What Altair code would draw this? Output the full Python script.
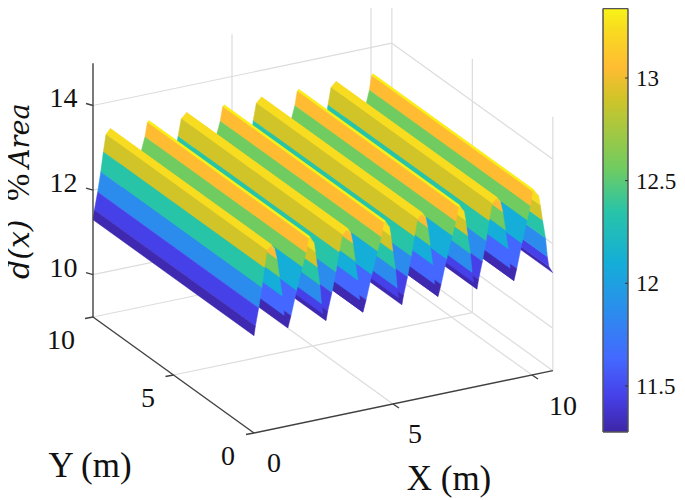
import altair as alt
import pandas as pd

# ---- axes of the 3D box
X_MAX, Y_MAX, Z_MIN, Z_MAX = 10.75, 10.0, 9.0, 15.0
x_ticks = [0, 5, 10]
y_ticks = [0, 5, 10]
z_ticks = [10, 12, 14]
cbar_ticks = [11.5, 12, 12.5, 13]
cbar_labels = ["11.5", "12", "12.5", "13"]

# ---- surface: d(x), saw-tooth (constant along Y)
valleys = [0.0, 1.22, 2.59, 3.92, 5.32, 6.62, 8.02, 9.35, 10.74]
crests = [0.62, 2.01, 3.37, 4.72, 6.06, 7.40, 8.74, 10.07]

rise_a_frac = [0, 0.08, 0.27, 0.45, 0.60, 0.75, 1]
rise_a_z = [11.30, 11.52, 11.93, 12.39, 12.85, 13.25, 13.37]
rise_a_col = [11.30, 11.45, 11.86, 12.35, 12.90, 13.24]

rise_b_frac = [0, 0.14, 0.39, 0.65, 0.82, 0.93, 1]
rise_b_z = [11.32, 11.59, 12.15, 12.68, 13.00, 13.33, 13.37]
rise_b_col = [11.30, 11.63, 12.10, 12.56, 13.05, 13.32]

fall_a_frac = [0, 0.25, 0.34, 0.46, 0.62, 0.72, 0.80, 1]
fall_a_z = [13.36, 13.20, 12.98, 12.61, 12.17, 11.72, 11.48, 11.32]
fall_a_col = [13.24, 13.24, 12.90, 12.35, 11.86, 11.45, 11.30]

fall_b_frac = [0, 0.20, 0.34, 0.50, 0.66, 0.78, 1]
fall_b_z = [13.37, 13.25, 13.00, 12.56, 12.10, 11.63, 11.32]
fall_b_col = [13.24, 13.05, 12.56, 12.10, 11.63, 11.30]

# parula-like colour ramp of the colour bar
col_domain = [11.28, 11.45, 11.63, 11.86, 12.10, 12.35, 12.56, 12.90, 13.05, 13.24, 13.37]
col_range = ["#3e26a8", "#4640e8", "#4468ff", "#2c8cee", "#14aed8", "#28c4a8",
             "#70cc60", "#d0c428", "#ffbc32", "#f8dc20", "#f9fb15"]
CBAR_LEFT, CBAR_RIGHT, CBAR_TOP, CBAR_BOTTOM = 603, 628, 8.5, 432


def cbar_y(v):
    return 78 + (13 - v) * 205.3


# ---- view of the 3D box (page pixels)
def project(x, y, z):
    px = 254 + 27.8 * x - 16.1 * y
    py = 433 - 5.8 * x - 11.6 * y - 42.3 * (z - Z_MIN)
    return px, py


def seg(rows, a, b):
    ax, ay = project(*a)
    bx, by = project(*b)
    rows.append({"x1": ax, "y1": ay, "x2": bx, "y2": by})


# grid on floor and back walls
grid = []
for v in [5, 10]:
    seg(grid, (v, 0, Z_MIN), (v, Y_MAX, Z_MIN))
    seg(grid, (v, Y_MAX, Z_MIN), (v, Y_MAX, Z_MAX))
seg(grid, (0, 5, Z_MIN), (X_MAX, 5, Z_MIN))
seg(grid, (X_MAX, 5, Z_MIN), (X_MAX, 5, Z_MAX))
seg(grid, (0, Y_MAX, Z_MIN), (X_MAX, Y_MAX, Z_MIN))
seg(grid, (X_MAX, Y_MAX, Z_MIN), (X_MAX, 0, Z_MIN))
seg(grid, (X_MAX, Y_MAX, Z_MIN), (X_MAX, Y_MAX, Z_MAX))
seg(grid, (X_MAX, 0, Z_MIN), (X_MAX, 0, Z_MAX))
for v in z_ticks:
    seg(grid, (0, Y_MAX, v), (X_MAX, Y_MAX, v))
    seg(grid, (X_MAX, Y_MAX, v), (X_MAX, 0, v))
grid_df = pd.DataFrame(grid)

# box edges and tick marks
axes = []
seg(axes, (0, Y_MAX, Z_MIN), (0, Y_MAX, Z_MAX))
seg(axes, (0, Y_MAX, Z_MIN), (0, 0, Z_MIN))
seg(axes, (0, 0, Z_MIN), (X_MAX, 0, Z_MIN))
for v in z_ticks:
    px, py = project(0, Y_MAX, v)
    axes.append({"x1": px - 7, "y1": py - 2, "x2": px, "y2": py})
for v in y_ticks:
    px, py = project(0, v, Z_MIN)
    axes.append({"x1": px - 8, "y1": py + 1.5, "x2": px, "y2": py})
for v in x_ticks[1:]:
    px, py = project(v, 0, Z_MIN)
    axes.append({"x1": px, "y1": py, "x2": px + 6, "y2": py + 4})
axes_df = pd.DataFrame(axes)


# surface facets, far to near
def facet(x0, z0, x1, z1, c):
    ring = [project(x0, 0, z0), project(x1, 0, z1), project(x1, Y_MAX, z1),
            project(x0, Y_MAX, z0), project(x0, 0, z0)]
    ring = [[p[0] - 8, p[1] - 8] for p in ring]
    return {"type": "Feature", "properties": {"c": c},
            "geometry": {"type": "Polygon", "coordinates": [ring]}}


features = []
for i in range(7, -1, -1):
    v0, cr, v1 = valleys[i], crests[i], valleys[i + 1]
    if i % 2 == 0:
        rf, rz, rc, ff, fz, fc = rise_a_frac, rise_a_z, rise_a_col, fall_b_frac, fall_b_z, fall_b_col
    else:
        rf, rz, rc, ff, fz, fc = rise_b_frac, rise_b_z, rise_b_col, fall_a_frac, fall_a_z, fall_a_col
    fx = [cr + f * (v1 - cr) for f in ff]
    for k in range(len(fc) - 1, -1, -1):
        features.append(facet(fx[k], fz[k], fx[k + 1], fz[k + 1], fc[k]))
    rx = [v0 + f * (cr - v0) for f in rf]
    for k in range(len(rc) - 1, -1, -1):
        features.append(facet(rx[k], rz[k], rx[k + 1], rz[k + 1], rc[k]))

# text: page position of baseline
tick_text = pd.DataFrame({
    "t": ["14", "12", "10", "10", "5", "0", "0", "5", "10"],
    "x": [63.5, 63.5, 63.5, 61, 148, 228, 274, 415, 563],
    "y": [107, 192, 277, 349, 407, 465, 472, 443, 415],
})
axis_text = pd.DataFrame({"t": ["Y (m)", "X (m)"], "x": [90, 449], "y": [477, 490]})

xs = alt.Scale(domain=[8, 677], range=[0, 669])
ys = alt.Scale(domain=[500, 8], range=[492, 0])
X = lambda f: alt.X(f, type="quantitative", scale=xs, axis=None)
Y = lambda f: alt.Y(f, type="quantitative", scale=ys, axis=None)

grid_layer = alt.Chart(grid_df).mark_rule(color="#dcdcdc", strokeWidth=1.2).encode(
    x=X("x1"), y=Y("y1"), x2="x2", y2="y2")

color_scale = alt.Scale(domain=col_domain, range=col_range, interpolate="rgb")
surface = alt.Chart(alt.InlineData(values=features)).mark_geoshape(strokeWidth=0.5).encode(
    color=alt.Color("properties.c:Q", scale=color_scale, legend=None),
    stroke=alt.Stroke("properties.c:Q", scale=color_scale, legend=None),
).project(type="identity", scale=1, translate=[0, 0])

axes_layer = alt.Chart(axes_df).mark_rule(color="#404040", strokeWidth=1.4).encode(
    x=X("x1"), y=Y("y1"), x2="x2", y2="y2")

# colour bar: thin slices of the same colour scale
n_slices = int(CBAR_BOTTOM - CBAR_TOP)
cbar_df = pd.DataFrame({"y1": [CBAR_BOTTOM - k for k in range(n_slices)],
                        "y2": [CBAR_BOTTOM - k - 1.3 for k in range(n_slices)]})
cbar_df["v"] = 13 + (78 - (cbar_df["y1"] - 0.5)) / 205.3
cbar_df["x1"], cbar_df["x2"] = CBAR_LEFT, CBAR_RIGHT
cbar_layer = alt.Chart(cbar_df).mark_rect().encode(
    x=X("x1"), x2="x2", y=Y("y1"), y2="y2",
    color=alt.Color("v:Q", scale=color_scale, legend=None))

cbar_box = pd.DataFrame({
    "x1": [CBAR_LEFT, CBAR_RIGHT, CBAR_LEFT, CBAR_LEFT],
    "x2": [CBAR_LEFT, CBAR_RIGHT, CBAR_RIGHT, CBAR_RIGHT],
    "y1": [CBAR_TOP, CBAR_TOP, CBAR_TOP, CBAR_BOTTOM],
    "y2": [CBAR_BOTTOM, CBAR_BOTTOM, CBAR_TOP, CBAR_BOTTOM]})
cbar_box_layer = alt.Chart(cbar_box).mark_rule(color="#555555", strokeWidth=1.5).encode(
    x=X("x1"), x2="x2", y=Y("y1"), y2="y2")

cbar_tick_df = pd.DataFrame({
    "x1": [625] * len(cbar_ticks), "x2": [628] * len(cbar_ticks),
    "y1": [cbar_y(v) for v in cbar_ticks]})
cbar_tick_layer = alt.Chart(cbar_tick_df).mark_rule(color="#333333", strokeWidth=1).encode(
    x=X("x1"), x2="x2", y=Y("y1"))

cbar_text = pd.DataFrame({"t": cbar_labels, "x": [636] * 4, "y": [cbar_y(v) + 8 for v in cbar_ticks]})
cbar_text_layer = alt.Chart(cbar_text).mark_text(
    font="Liberation Serif", fontSize=23, color="#111111", align="left", baseline="alphabetic"
).encode(x=X("x"), y=Y("y"), text="t:N")

tick_layer = alt.Chart(tick_text).mark_text(
    font="Liberation Serif", fontSize=28, color="#111111", align="center", baseline="alphabetic"
).encode(x=X("x"), y=Y("y"), text="t:N")
axis_layer = alt.Chart(axis_text).mark_text(
    font="Liberation Serif", fontSize=35, color="#111111", align="center", baseline="alphabetic"
).encode(x=X("x"), y=Y("y"), text="t:N")

# y label: d(x) %Area
ylab = [("d(x)", 279, "DejaVu Serif", 30, "italic"),
        ("%", 201, "Liberation Serif", 33, "normal"),
        ("Area", 168, "DejaVu Serif", 27, "italic")]
ylab_layers = [
    alt.Chart(pd.DataFrame({"t": [t], "x": [29], "y": [py]})).mark_text(
        font=f, fontSize=s, fontStyle=st, angle=270, color="#111111",
        align="left", baseline="alphabetic"
    ).encode(x=X("x"), y=Y("y"), text="t:N")
    for t, py, f, s, st in ylab
]

chart = alt.layer(grid_layer, surface, axes_layer, cbar_layer, cbar_box_layer, cbar_tick_layer,
                  cbar_text_layer, tick_layer, axis_layer, *ylab_layers
                  ).resolve_scale(x="shared", y="shared").properties(
    width=669, height=492, padding=0, autosize=alt.AutoSizeParams(type="none"),
).configure_view(stroke=None)

chart.save("out.html", embed_options={"renderer": "svg", "actions": False})
